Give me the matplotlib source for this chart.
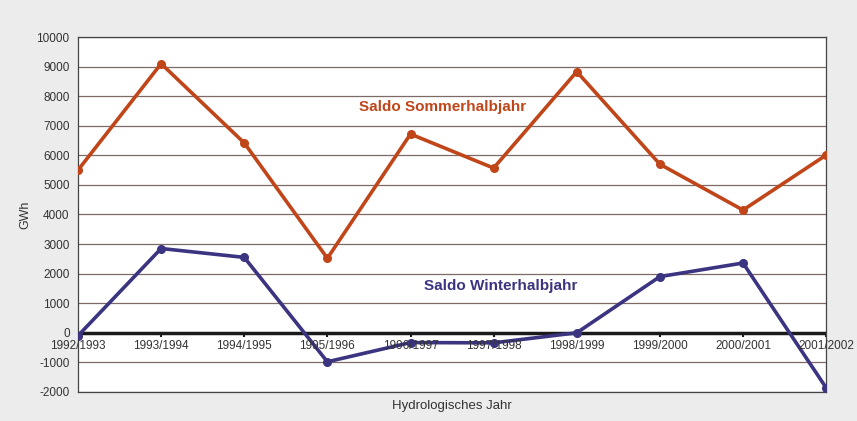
import matplotlib.pyplot as plt
import numpy as np

plt.rcParams["font.family"] = ["Liberation Sans", "DejaVu Sans"]
plt.rcParams["axes.unicode_minus"] = False

# Hydrological years and net balances (GWh)
years = ["1992/1993", "1993/1994", "1994/1995", "1995/1996", "1996/1997",
         "1997/1998", "1998/1999", "1999/2000", "2000/2001", "2001/2002"]
sommer = [5500, 9100, 6420, 2520, 6720, 5570, 8830, 5700, 4150, 6010]
winter = [-100, 2850, 2550, -980, -330, -340, 0, 1900, 2360, -1860]

orange = "#c0461a"
navy = "#3b3480"

fig = plt.figure(figsize=(8.57, 4.21), dpi=100, facecolor="#ececec")
ax = fig.add_axes([0.091, 0.069, 0.873, 0.843])
ax.set_facecolor("white")

x = np.arange(len(years))

# horizontal grid lines
for v in range(-2000, 10001, 1000):
    if v != 0:
        ax.axhline(v, color="#7d6a66", lw=0.9, zorder=1)
ax.axhline(0, color="#1a1a1a", lw=2.5, zorder=2)

ax.plot(x, sommer, color=orange, lw=2.6, marker="o", ms=5.5, zorder=3)
ax.plot(x, winter, color=navy, lw=2.6, marker="o", ms=5.5, zorder=3)

ax.set_xlim(0, len(years) - 1)
ax.set_ylim(-2000, 10000)
ax.set_yticks(range(-2000, 10001, 1000))
ax.tick_params(axis="y", labelsize=8.5, length=0, pad=6, labelcolor="#333333")
ax.set_xticks([])

# category labels sit under the zero line
for i, lab in enumerate(years):
    ax.plot([i, i], [0, -120], color="#1a1a1a", lw=1.5, zorder=2)
    ax.text(i, -230, lab, ha="center", va="top", fontsize=8.5, color="#333333", zorder=4)

for side in ["top", "right", "left", "bottom"]:
    ax.spines[side].set_color("#444444")
    ax.spines[side].set_linewidth(0.9)

ax.set_ylabel("GWh", fontsize=9, color="#333333", labelpad=4)
ax.set_xlabel("Hydrologisches Jahr", fontsize=9.5, color="#333333", labelpad=6)

ax.text(4.38, 7630, "Saldo Sommerhalbjahr", color=orange, fontsize=11,
        fontweight="bold", ha="center", va="center")
ax.text(5.08, 1590, "Saldo Winterhalbjahr", color=navy, fontsize=11,
        fontweight="bold", ha="center", va="center")

fig.savefig("out.png", dpi=100, facecolor=fig.get_facecolor())
